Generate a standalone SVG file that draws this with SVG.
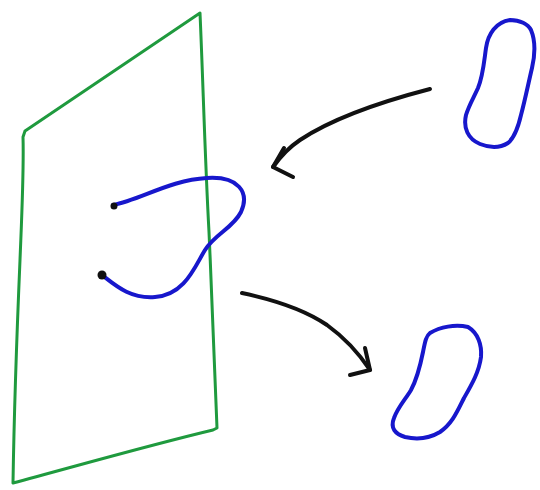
<svg xmlns="http://www.w3.org/2000/svg" width="540" height="490" viewBox="0 0 540 490">
<style>
.g{fill:none;stroke:#1f9a3e;stroke-width:3;stroke-linecap:round;stroke-linejoin:round}
.b{fill:none;stroke:#1717cc;stroke-width:4;stroke-linecap:round;stroke-linejoin:round}
.k{fill:none;stroke:#111;stroke-width:4;stroke-linecap:round;stroke-linejoin:round}
</style>
<rect width="540" height="490" fill="#fff"/>
<g id="plane">
<path class="g" d="M25,131 L200,13 C203,80 205,160 209,232 C212,300 215,370 217,428 L213,430 C150,445 80,465 13,483 C14,420 17,330 20,260 C22,210 24,170 23,137 Z"/>
</g>
<g id="curve-in-plane">
<path class="b" d="M113,205 C140,200 170,180 207,178 C238,176 250,192 241,212 C233,228 215,234 205,250 C195,266 185,295 155,297 C130,299 115,285 102,275"/>
<circle cx="114" cy="206" r="3.5" fill="#111"/>
<circle cx="102" cy="275" r="4.5" fill="#111"/>
</g>
<g id="loop-top">
<path class="b" d="M510,20 C520,20 528,24 531,30 C536,42 535,55 532,68 C528,85 525,100 521,115 C518,128 514,138 508,143 C500,148 490,148 480,144 C468,139 463,128 466,115 C469,105 474,97 478,88 C483,76 484,62 486,48 C488,34 496,22 510,20 Z"/>
</g>
<g id="loop-bottom">
<path class="b" d="M430,333 C440,327 455,324 468,327 C478,333 482,345 481,357 C479,372 472,384 464,398 C457,412 452,424 440,432 C430,438 418,440 405,437 C395,434 390,428 394,418 C398,407 405,400 411,390 C418,377 421,362 423,352 C425,342 426,336 430,333 Z"/>
</g>
<g id="connectors">
<path class="k" d="M430,89 C380,102 330,120 300,140 C288,148 280,157 273,167"/>
<path class="k" d="M284,148 L273,167 L293,177"/>
<path class="k" d="M242,293 C275,300 305,310 327,325 C345,338 358,352 370,370"/>
<path class="k" d="M365,348 L370,370 L350,375"/>
</g>
</svg>
